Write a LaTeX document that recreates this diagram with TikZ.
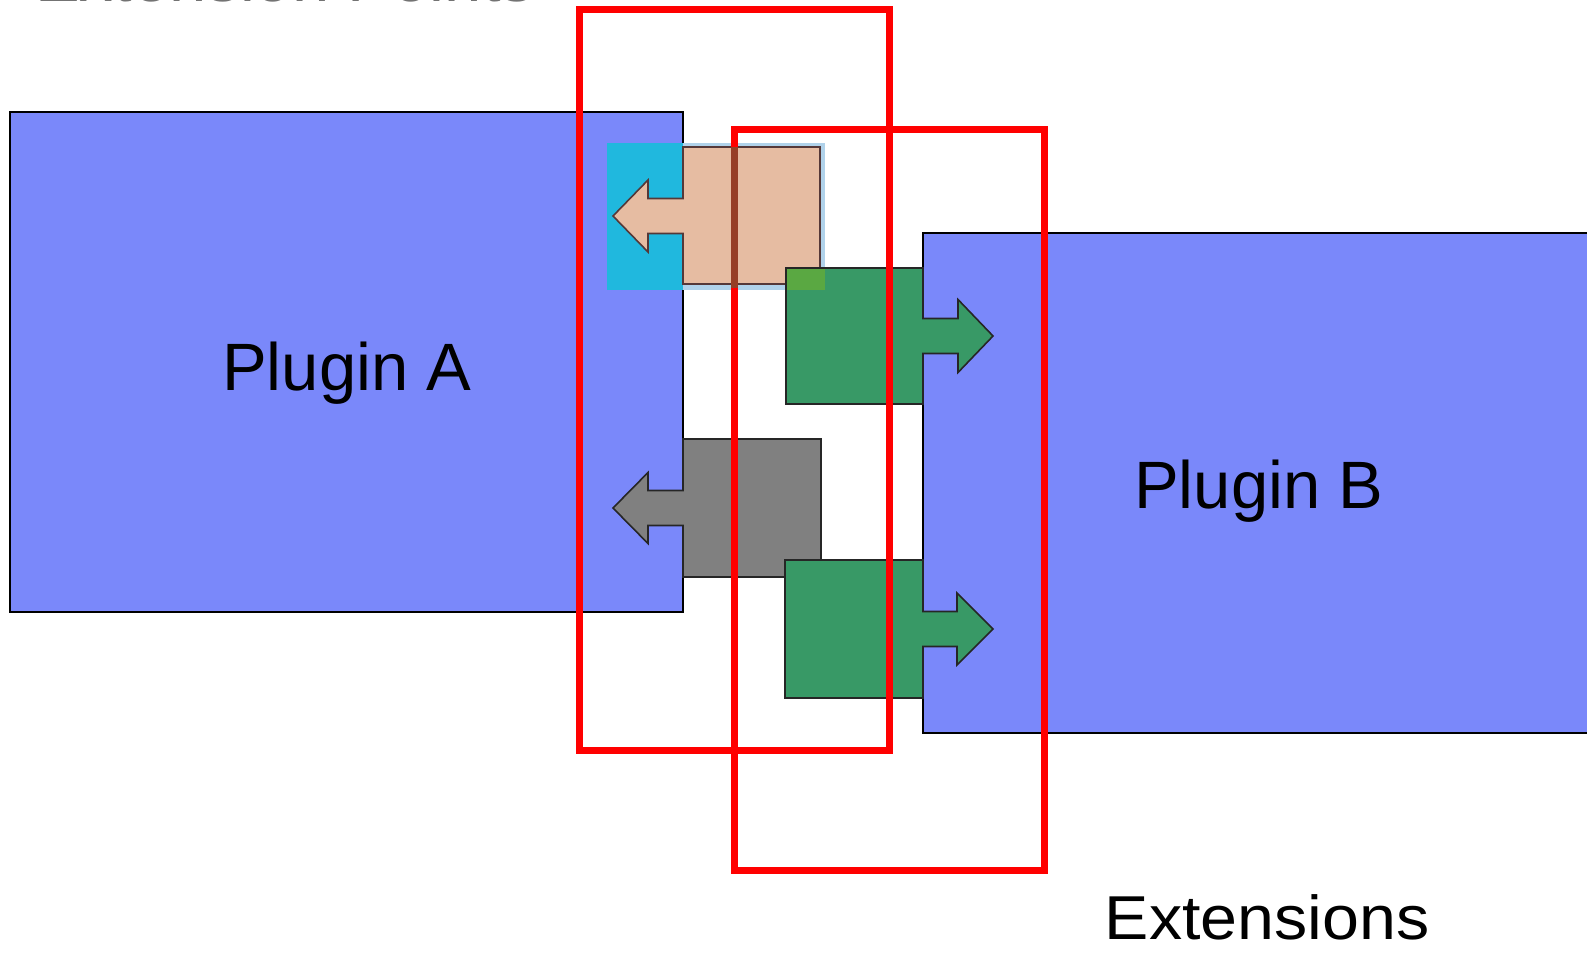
\documentclass[tikz,border=0pt]{standalone}
\usepackage{fontspec}
\setmainfont{Liberation Sans}
\definecolor{plugblue}{RGB}{122,136,250}
\definecolor{extgreen}{RGB}{56,153,102}
\definecolor{extgray}{RGB}{128,128,128}
\definecolor{salmon}{RGB}{230,188,162}
\definecolor{cyanhl}{RGB}{32,184,222}
\definecolor{palehl}{RGB}{176,210,234}
\definecolor{lightgreen}{RGB}{90,168,66}
\definecolor{brownline}{RGB}{150,62,38}
\definecolor{salmonedge}{RGB}{85,56,56}
\definecolor{redline}{RGB}{255,0,0}
\tikzset{
  plugbox/.style={fill=plugblue, draw=black, line width=1.4pt},
  extshape/.style={draw=black!85, line width=1.6pt, line join=miter},
  redframe/.style={draw=redline, line width=7pt},
  lbl/.style={font=\fontsize{67}{67}\selectfont, anchor=base, inner sep=0pt}
}
\begin{document}
\begin{tikzpicture}[x=1pt,y=-1pt]
\useasboundingbox (0,0) rectangle (1587,953);
\fill[white] (0,0) rectangle (1587,953);
% cut-off title
\node[lbl, text=black!55, anchor=base west] (title) at (35,1.2) {Extension Points};
% plugins
\draw[plugbox] (10,112) rectangle (683,612);
\draw[plugbox] (923,233) rectangle (1600,733);
\node[lbl] (pa) at (347,390) {Plugin A};
\node[lbl] (pb) at (1259,508) {Plugin B};
% gray extension point
\draw[extshape, fill=extgray] (821,439) -- (683,439) -- (683,490.5) -- (648,490.5) -- (648,472.5)
  -- (613,508) -- (648,543.5) -- (648,525.5) -- (683,525.5) -- (683,577) -- (821,577) -- cycle;
% highlight rectangle
\fill[palehl] (607,143) rectangle (825,290);
\fill[cyanhl] (607,143) rectangle (683,290);
% salmon extension point
\draw[extshape, draw=salmonedge, fill=salmon] (820,147) -- (683,147) -- (683,198.5) -- (648,198.5) -- (648,180)
  -- (613,216) -- (648,252) -- (648,233.5) -- (683,233.5) -- (683,284) -- (820,284) -- cycle;
% green extensions
\draw[extshape, fill=extgreen] (786,268) -- (923,268) -- (923,318.5) -- (958,318.5) -- (958,299.5)
  -- (993,336) -- (958,372.5) -- (958,353.5) -- (923,353.5) -- (923,404) -- (786,404) -- cycle;
\fill[lightgreen] (787,269) rectangle (825,290);
\draw[black!85, line width=1.6pt] (786,268) -- (825,268);
\draw[extshape, fill=extgreen] (785,560) -- (923,560) -- (923,611.5) -- (957,611.5) -- (957,593)
  -- (993,629) -- (957,665) -- (957,646.5) -- (923,646.5) -- (923,698) -- (785,698) -- cycle;
% red frames
\draw[redframe] (579,9.5) rectangle (889,750);
\draw[redframe] (734,129) rectangle (1044,870);
\draw[brownline, line width=7pt] (734,147) -- (734,288);
\node[lbl, font=\fontsize{62}{62}\selectfont, xscale=1.07] (ext) at (1267,939) {Extensions};
\end{tikzpicture}
\end{document}
